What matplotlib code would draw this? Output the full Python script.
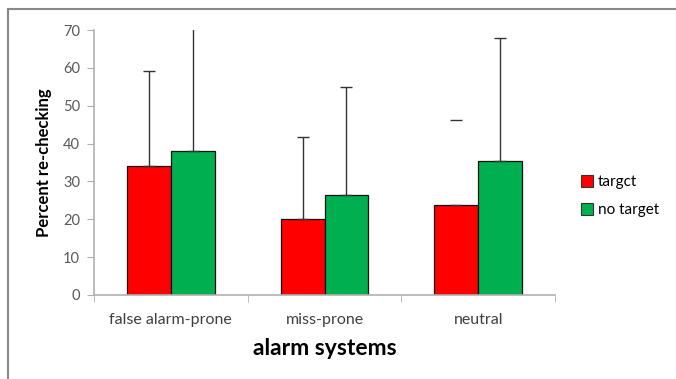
import matplotlib
matplotlib.use("Agg")
import matplotlib.pyplot as plt
import numpy as np
from matplotlib.lines import Line2D
from matplotlib.patches import Patch

categories = ["false alarm-prone", "miss-prone", "neutral"]
target = [34.0, 20.1, 23.7]
no_target = [38.0, 26.3, 35.5]
target_err_top = [59.2, 41.8, 46.2]
no_target_err_top = [71.0, 54.9, 68.0]
series_names = ["targct", "no target"]
yticks = [0, 10, 20, 30, 40, 50, 60, 70]

plt.rcParams['font.family'] = ['Lato', 'DejaVu Sans']

fig = plt.figure(figsize=(6.76, 3.79), dpi=100)
ax = fig.add_axes([94/676, 1-295/379, (555-94)/676, (295-30)/379])

x = np.arange(len(categories))
w = 0.286
red = "#ff0000"
green = "#00b050"
ax.bar(x - w/2, target, w, color=red, edgecolor="#111111", linewidth=0.9, zorder=2)
ax.bar(x + w/2, no_target, w, color=green, edgecolor="#111111", linewidth=0.9, zorder=2)

# error bars (upper only)
for i in range(len(categories)):
    elw = 0 if i == 2 else 1  # neutral/target: only the cap is visible
    ax.errorbar(x[i] - w/2, target[i], yerr=[[0], [target_err_top[i]-target[i]]],
                fmt="none", ecolor="#333333", elinewidth=elw, capsize=4, capthick=1, zorder=3)
    ax.errorbar(x[i] + w/2, no_target[i], yerr=[[0], [no_target_err_top[i]-no_target[i]]],
                fmt="none", ecolor="#333333", elinewidth=1, capsize=4, capthick=1, zorder=3)

ax.set_xlim(-0.5, len(categories) - 0.5)
ax.set_ylim(0, 70)
ax.set_yticks(yticks)
ax.set_yticklabels([str(t) for t in yticks], fontsize=10.5, color="#595959")
ax.set_xticks(x)
ax.set_xticklabels(categories, fontsize=11.5, color="#404040")
ax.tick_params(axis="x", length=0, pad=13)
ax.set_xticks(np.arange(-0.5, len(categories)), minor=True)
ax.tick_params(axis="x", which="minor", length=5, color="#b0b0b0", direction="out")
ax.tick_params(axis="y", length=5, color="#b0b0b0", direction="out", pad=5)

for s in ["top", "right"]:
    ax.spines[s].set_visible(False)
for s in ["left", "bottom"]:
    ax.spines[s].set_color("#b0b0b0")
    ax.spines[s].set_linewidth(1.2)

ax.set_ylabel("Percent re-checking", fontsize=12, fontweight="bold", labelpad=8)
ax.set_xlabel("alarm systems", fontsize=16.5, fontweight="bold", labelpad=8)

handles = [Patch(facecolor=red, edgecolor="#333333", linewidth=0.8),
           Patch(facecolor=green, edgecolor="#333333", linewidth=0.8)]
fig.legend(handles, series_names, loc="center left", bbox_to_anchor=(575/676, 1-196/379),
           frameon=False, fontsize=11, handlelength=0.8, handleheight=0.8,
           handletextpad=0.3, labelspacing=0.9, borderaxespad=0)

# outer frame
fig.add_artist(Line2D([8/676, 8/676], [0, 1-9/379], color="#888888", linewidth=1.5, transform=fig.transFigure))
fig.add_artist(Line2D([8/676, 1], [1-9/379, 1-9/379], color="#888888", linewidth=1.5, transform=fig.transFigure))

fig.savefig("out.png", dpi=100)
